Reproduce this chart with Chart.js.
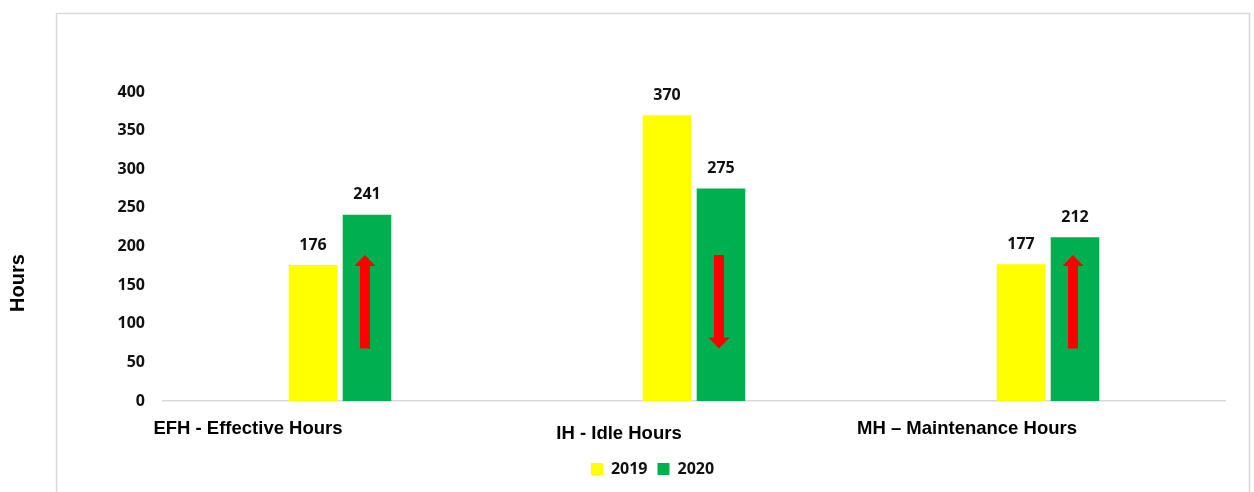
<!DOCTYPE html>
<html>
<head>
<meta charset="utf-8">
<script src="https://cdn.jsdelivr.net/npm/chart.js@4.4.0/dist/chart.umd.min.js"></script>
<style>
  html, body { margin: 0; padding: 0; background: #fff; }
  #wrap { width: 1254px; height: 492px; }
</style>
</head>
<body>
<div id="wrap"><canvas id="hoursChart"></canvas></div>
<script>
// data
const categories = ['EFH - Effective Hours', 'IH - Idle Hours', 'MH \u2013 Maintenance Hours'];
const years = ['2019', '2020'];
const hours2019 = [176, 370, 177];
const hours2020 = [241, 275, 212];
const yTicks = [0, 50, 100, 150, 200, 250, 300, 350, 400];

// category labels sit a bit off their bars
const labelShift = [[-92, 28], [-75, 33], [-81, 28]];

// frame, axis title, value labels, category labels, trend arrows
const extras = {
    id: 'extras',
    beforeDraw(chart) {
        const c = chart.ctx;
        c.save();
        c.strokeStyle = '#d9d9d9';
        c.lineWidth = 1.5;
        c.beginPath();
        c.moveTo(56.5, 500);
        c.lineTo(56.5, 13.5);
        c.lineTo(1249.5, 13.5);
        c.lineTo(1249.5, 500);
        c.stroke();
        c.restore();
    },
    afterDatasetsDraw(chart) {
        const c = chart.ctx;
        const y = chart.scales.y;
        const x = chart.scales.x;
        c.save();

        // value labels above bars
        c.fillStyle = '#111';
        c.font = 'bold 16px "Open Sans"';
        c.textAlign = 'center';
        c.textBaseline = 'middle';
        chart.data.datasets.forEach(function(ds, di) {
            chart.getDatasetMeta(di).data.forEach(function(bar, i) {
                c.fillText(ds.data[i], bar.x, bar.y - 20);
            });
        });

        // category labels
        c.fillStyle = '#000';
        c.font = 'bold 18.5px "Liberation Sans"';
        categories.forEach(function(cat, i) {
            const px = x.getPixelForValue(i);
            c.fillText(cat, px + labelShift[i][0], y.bottom + labelShift[i][1]);
        });

        // axis title
        c.save();
        c.translate(18, 283);
        c.rotate(-Math.PI / 2);
        c.font = 'bold 20px "Liberation Sans"';
        c.fillText('Hours', 0, 0);
        c.restore();

        // red arrows on the 2020 bars showing direction of change
        const low = y.getPixelForValue(68);
        const high = y.getPixelForValue(189);
        c.fillStyle = '#ff0000';
        chart.getDatasetMeta(1).data.forEach(function(bar, i) {
            const cx = bar.x - 2;
            const up = hours2020[i] > hours2019[i];
            const tip = up ? high : low;
            const tail = up ? low : high;
            const dir = up ? 1 : -1;
            c.beginPath();
            c.moveTo(cx - 5, tail);
            c.lineTo(cx - 5, tip + dir * 11);
            c.lineTo(cx - 10.5, tip + dir * 11);
            c.lineTo(cx, tip);
            c.lineTo(cx + 10.5, tip + dir * 11);
            c.lineTo(cx + 5, tip + dir * 11);
            c.lineTo(cx + 5, tail);
            c.closePath();
            c.fill();
        });
        c.restore();
    }
};

const ctx = document.getElementById('hoursChart').getContext('2d');

const hoursChart = new Chart(ctx, {
    type: 'bar',
    data: {
        labels: categories,
        datasets: [{
            label: years[0],
            data: hours2019,
            backgroundColor: '#ffff00',
            categoryPercentage: 0.305,
            barPercentage: 0.9
        }, {
            label: years[1],
            data: hours2020,
            backgroundColor: '#00b050',
            categoryPercentage: 0.305,
            barPercentage: 0.9
        }]
    },
    options: {
        responsive: true,
        maintainAspectRatio: false,
        animation: false,
        layout: {
            padding: { left: 56, right: 5, top: 92, bottom: 5 }
        },
        plugins: {
            legend: {
                position: 'bottom',
                labels: {
                    color: '#111',
                    font: { family: '"Open Sans"', size: 16, weight: 'bold' },
                    boxWidth: 12,
                    boxHeight: 12,
                    padding: 10
                }
            },
            tooltip: { enabled: false }
        },
        scales: {
            x: {
                grid: { display: false },
                border: { color: '#d9d9d9', width: 1.5 },
                ticks: { display: false },
                afterFit: function(s) { s.height = 50; }
            },
            y: {
                min: 0,
                max: 400,
                afterBuildTicks: function(s) {
                    s.ticks = yTicks.map(function(v) { return { value: v }; });
                },
                grid: { display: false, drawTicks: false },
                border: { display: false },
                ticks: {
                    padding: 18,
                    color: '#111',
                    font: { family: '"Open Sans"', size: 16, weight: 'bold' }
                },
                afterFit: function(s) { s.width = 107; }
            },
            yRight: {
                position: 'right',
                grid: { display: false },
                border: { display: false },
                ticks: { display: false },
                afterFit: function(s) { s.width = 24; }
            }
        }
    },
    plugins: [extras]
});
</script>
</body>
</html>
